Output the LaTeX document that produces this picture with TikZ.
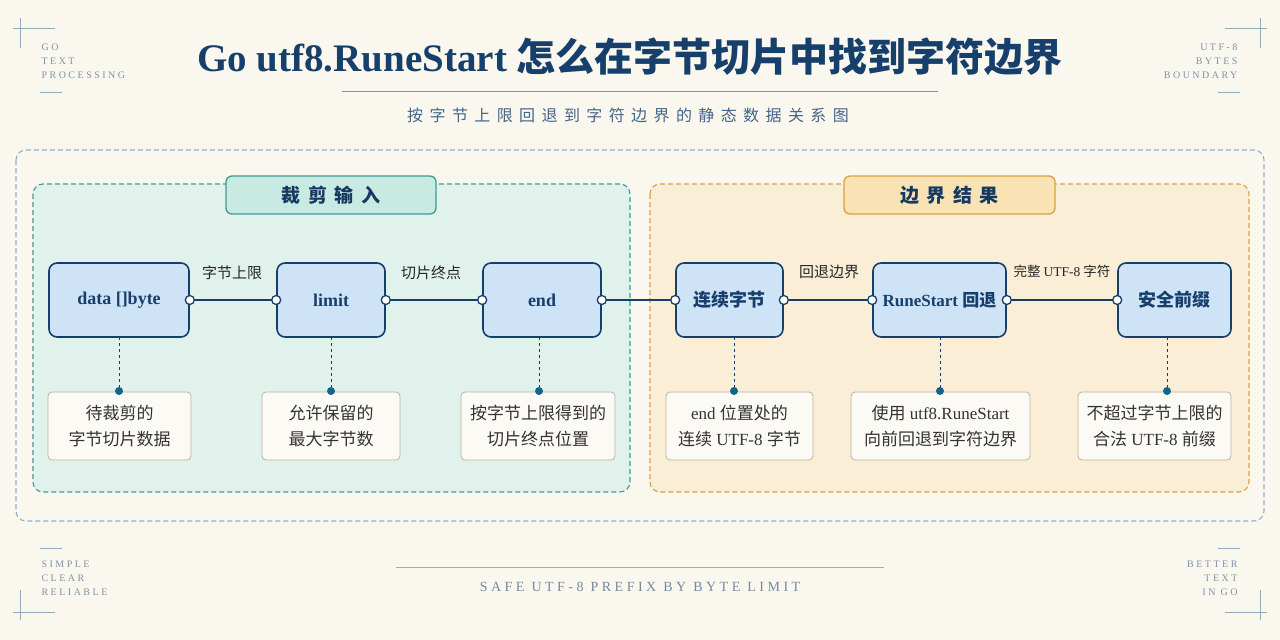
\documentclass[tikz,border=0pt]{standalone}
\usepackage{fontspec}
\setmainfont{Liberation Serif}
\newfontfamily\cjk{Noto Sans CJK SC}
\newfontfamily\spaced{Liberation Serif}[LetterSpace=25]
\newfontfamily\cjksp{Noto Sans CJK SC}[LetterSpace=40]
\definecolor{navy}{HTML}{173F6B}
\definecolor{bg}{HTML}{FAF7EF}
\definecolor{nodefill}{HTML}{CFE3F7}
\definecolor{tealfill}{HTML}{E1F2EC}
\definecolor{tealline}{HTML}{3E9C94}
\definecolor{tealhead}{HTML}{C9EAE3}
\definecolor{orfill}{HTML}{FBEED6}
\definecolor{orline}{HTML}{DDA040}
\definecolor{orhead}{HTML}{F9E2B3}
\definecolor{grey}{HTML}{7F93A8}
\definecolor{frame}{HTML}{8FB0CC}
\definecolor{descline}{HTML}{BDB2A0}
\begin{document}
\begin{tikzpicture}[x=1pt,y=-1pt,
 main/.style={draw=navy,line width=1.6pt,rounded corners=8pt,fill=nodefill,font=\fontsize{18}{20}\selectfont\bfseries,text=navy},
 desc/.style={draw=descline,line width=0.8pt,rounded corners=4pt,fill=bg!60!white,font=\fontsize{17}{26}\selectfont,text=black!80,align=center},
 port/.style={circle,draw=navy,fill=white,line width=1.3pt,inner sep=0pt,minimum size=9pt},
 link/.style={draw=navy,line width=1.6pt},
 elab/.style={font=\cjk\fontsize{15}{16}\selectfont,text=black!85},
 dotl/.style={draw=navy,dashed,dash pattern=on 3pt off 3pt,line width=0.9pt},
 pin/.style={circle,fill=navy!80!cyan,inner sep=0pt,minimum size=8pt},
 corner/.style={font=\spaced\fontsize{10}{14}\selectfont,text=grey,align=left},
 cl/.style={draw=grey!80,line width=0.8pt},
 panel/.style={dashed,dash pattern=on 5pt off 3pt,line width=1.1pt,rounded corners=10pt},
 head/.style={line width=1.3pt,rounded corners=6pt,minimum height=38pt,font=\cjksp\fontsize{19}{20}\selectfont\bfseries,text=navy!90!black}]
\fill[bg] (0,0) rectangle (1280,640);
% corners
\draw[cl] (13,28)--(55,28) (20,18)--(20,48) (40,92)--(62,92);
\node[corner,anchor=north west] (tl) at (38,40) {GO\\TEXT\\PROCESSING};
\draw[cl] (1225,28)--(1267,28) (1260,18)--(1260,48) (1218,92)--(1240,92);
\node[corner,anchor=north east,align=right] (tr) at (1241,40) {UTF-8\\BYTES\\BOUNDARY};
\draw[cl] (40,548)--(62,548) (13,612)--(55,612) (20,590)--(20,620);
\node[corner,anchor=north west] (bl) at (38,557) {SIMPLE\\CLEAR\\RELIABLE};
\draw[cl] (1218,548)--(1240,548) (1225,612)--(1267,612) (1260,590)--(1260,620);
\node[corner,anchor=north east,align=right] (br) at (1241,557) {BETTER\\TEXT\\IN GO};
% title
\node[text=navy,font=\fontsize{39}{40}\selectfont\bfseries] (title) at (630,57) {Go utf8.RuneStart {\cjk 怎么在字节切片中找到字符边界}};
\draw[frame!80!navy,line width=1pt] (342,91)--(938,91);
\node[font=\cjksp\fontsize{16}{18}\selectfont,text=navy!80] (sub) at (628,115) {按字节上限回退到字符边界的静态数据关系图};
\draw[frame,line width=0.8pt] (396,567)--(884,567);
\node[font=\spaced\fontsize{14}{16}\selectfont,text=grey!90!navy] (foot) at (640,587) {SAFE UTF-8 PREFIX BY BYTE LIMIT};
% frames
\draw[frame,panel] (16,150) rectangle (1264,521);
\draw[tealline,fill=tealfill,panel] (33,184) rectangle (630,492);
\draw[orline,fill=orfill,panel] (650,184) rectangle (1249,492);
\node[head,draw=tealline,fill=tealhead,minimum width=210pt] (g1) at (331,195) {裁剪输入};
\node[head,draw=orline,fill=orhead,minimum width=211pt] (g2) at (949.5,195) {边界结果};
% main nodes
\node[main,minimum width=140pt,minimum height=74pt] (n1) at (119,300) {data []byte};
\node[main,minimum width=108pt,minimum height=74pt] (n2) at (331,300) {limit};
\node[main,minimum width=118pt,minimum height=74pt] (n3) at (542,300) {end};
\node[main,minimum width=107pt,minimum height=74pt] (n4) at (729.5,300) {\cjk 连续字节};
\node[main,minimum width=133pt,minimum height=74pt,font=\fontsize{17}{20}\selectfont\bfseries] (n5) at (939.5,300) {RuneStart {\cjk 回退}};
\node[main,minimum width=113pt,minimum height=74pt] (n6) at (1174.5,300) {\cjk 安全前缀};
\foreach \a/\b in {n1/n2,n2/n3,n3/n4,n4/n5,n5/n6}{
 \draw[link] (\a.east)--(\b.west);
 \node[port] at (\a.east) {}; \node[port] at (\b.west) {};}
\node[elab] (l1) at (232,273) {字节上限};
\node[elab] (l2) at (431,273) {切片终点};
\node[elab] (l3) at (829,272) {回退边界};
\node[elab,font=\cjk\fontsize{13.5}{16}\selectfont] (l4) at (1062,271) {完整 {\rmfamily UTF-8} 字符};
% descriptions
\node[desc,minimum width=143pt,minimum height=68pt] (d1) at (119.5,426) {{\cjk 待裁剪的}\\{\cjk 字节切片数据}};
\node[desc,minimum width=138pt,minimum height=68pt] (d2) at (331,426) {{\cjk 允许保留的}\\{\cjk 最大字节数}};
\node[desc,minimum width=154pt,minimum height=68pt] (d3) at (538,426) {{\cjk 按字节上限得到的}\\{\cjk 切片终点位置}};
\node[desc,minimum width=147pt,minimum height=68pt] (d4) at (739.5,426) {end {\cjk 位置处的}\\{\cjk 连续} UTF-8 {\cjk 字节}};
\node[desc,minimum width=179pt,minimum height=68pt] (d5) at (940.5,426) {{\cjk 使用} utf8.RuneStart\\{\cjk 向前回退到字符边界}};
\node[desc,minimum width=153pt,minimum height=68pt] (d6) at (1154.5,426) {{\cjk 不超过字节上限的}\\{\cjk 合法} UTF-8 {\cjk 前缀}};
\foreach \x/\d in {119/d1,331/d2,539/d3,734/d4,940/d5,1167/d6}{
 \coordinate (p\d) at (\x,391);
 \draw[dotl] (\x,337)--(p\d);
 \node[pin] at (p\d) {};}
\end{tikzpicture}
\end{document}
